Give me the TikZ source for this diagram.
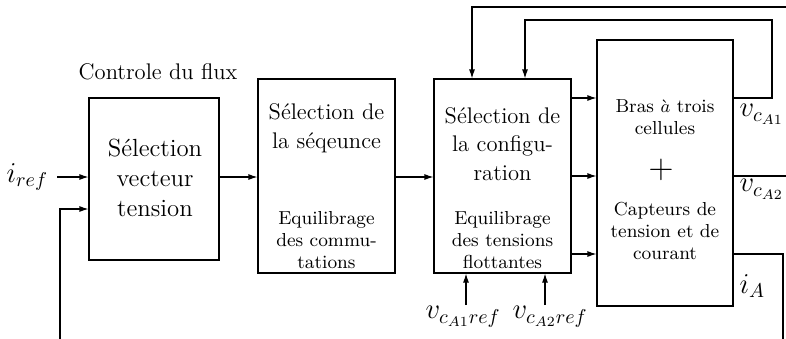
\documentclass[tikz,border=0pt]{standalone}
\usetikzlibrary{arrows.meta}
\begin{document}
\begin{tikzpicture}[x=0.5pt,y=-0.5pt,
  line width=0.55pt,
  blk/.style={draw,line width=0.55pt,inner sep=0pt},
  ar/.style={-{Latex[length=4.5pt,width=3pt]}},
  bigA/.style={align=center,font=\fontsize{12.4}{15}\selectfont,inner sep=0pt},
  big/.style={align=center,font=\fontsize{11.3}{14.3}\selectfont,inner sep=0pt},
  sml/.style={align=center,font=\fontsize{9.4}{11.2}\selectfont,inner sep=0pt},
  mlb/.style={inner sep=0pt,font=\fontsize{14.4}{17}\selectfont},
  lbl/.style={inner sep=0pt}]
\useasboundingbox (0,0) rectangle (786,338);
\clip (0,0) rectangle (786,338);
% boxes
\node[blk,minimum width=65pt,minimum height=81pt] (b1) at (154,179) {};
\node[blk,minimum width=68.5pt,minimum height=97pt] (b2) at (326.5,176) {};
\node[blk,minimum width=68.5pt,minimum height=97pt] (b3) at (502.5,176) {};
\node[blk,minimum width=68pt,minimum height=133pt] (b4) at (665,173) {};
% texts
\node[bigA] (t1) at (155,178) {Sélection\\vecteur\\tension};
\node[big] (t2a) at (326.5,128) {Sélection de\\la séqeunce};
\node[sml] (t2b) at (326.5,240) {Equilibrage\\des commu-\\tations};
\node[big] (t3a) at (502.5,144) {Sélection de\\la configu-\\ration};
\node[sml] (t3b) at (502.5,240) {Equilibrage\\des tensions\\flottantes};
\node[sml] (t4a) at (665,117) {Bras $\grave{a}$ trois\\cellules};
\node[lbl,font=\fontsize{17}{20}\selectfont] (plus) at (661,170) {$+$};
\node[sml] (t4b) at (665,231) {Capteurs de\\tension et de\\courant};
\node[lbl,font=\fontsize{11.3}{14}\selectfont] (flux) at (158,72) {Controle du flux};
% labels
\node[mlb,anchor=north west] (iref) at (6,163) {$i_{ref}$};
\node[mlb,anchor=north west] (vr1) at (425,306) {$v_{c_{A1}ref}$};
\node[mlb,anchor=north west] (vr2) at (512,306) {$v_{c_{A2}ref}$};
\node[mlb,anchor=north west] (v1) at (739,104) {$v_{c_{A1}}$};
\node[mlb,anchor=north west] (v2) at (739,179) {$v_{c_{A2}}$};
\node[mlb,anchor=north west] (ia) at (739,274) {$i_A$};
% coordinates
\coordinate (a0) at (57,177);
\coordinate (y177) at (0,177);
\coordinate (y98) at (0,98);
\coordinate (y176) at (0,176);
\coordinate (y254) at (0,254);
\coordinate (p1) at (772,20);
\coordinate (p2) at (525,20);
\coordinate (q1) at (820,7);
\coordinate (q2) at (472,7);
\coordinate (s1) at (783,360);
\coordinate (s2) at (60,209);
\coordinate (u1) at (466,305);
\coordinate (u2) at (545,305);
% connectors
\draw[ar] (a0) -- (b1.west |- a0);
\draw[ar] (b1.east |- y177) -- (b2.west |- y177);
\draw[ar] (b2.east |- y177) -- (b3.west |- y177);
\draw[ar] (b3.east |- y98) -- (b4.west |- y98);
\draw[ar] (b3.east |- y176) -- (b4.west |- y176);
\draw[ar] (b3.east |- y254) -- (b4.west |- y254);
\draw[ar] (b4.east |- y98) -| (p1) -- (p2) -- (b3.north -| p2);
\draw[ar] (b4.east |- y176) -| (q1) -- (q2) -- (b3.north -| q2);
\draw[ar] (b4.east |- y254) -| (s1) -- (s1 -| s2) -- (s2) -- (b1.west |- s2);
\draw[ar] (u1) -- (b3.south -| u1);
\draw[ar] (u2) -- (b3.south -| u2);
\end{tikzpicture}
\end{document}
